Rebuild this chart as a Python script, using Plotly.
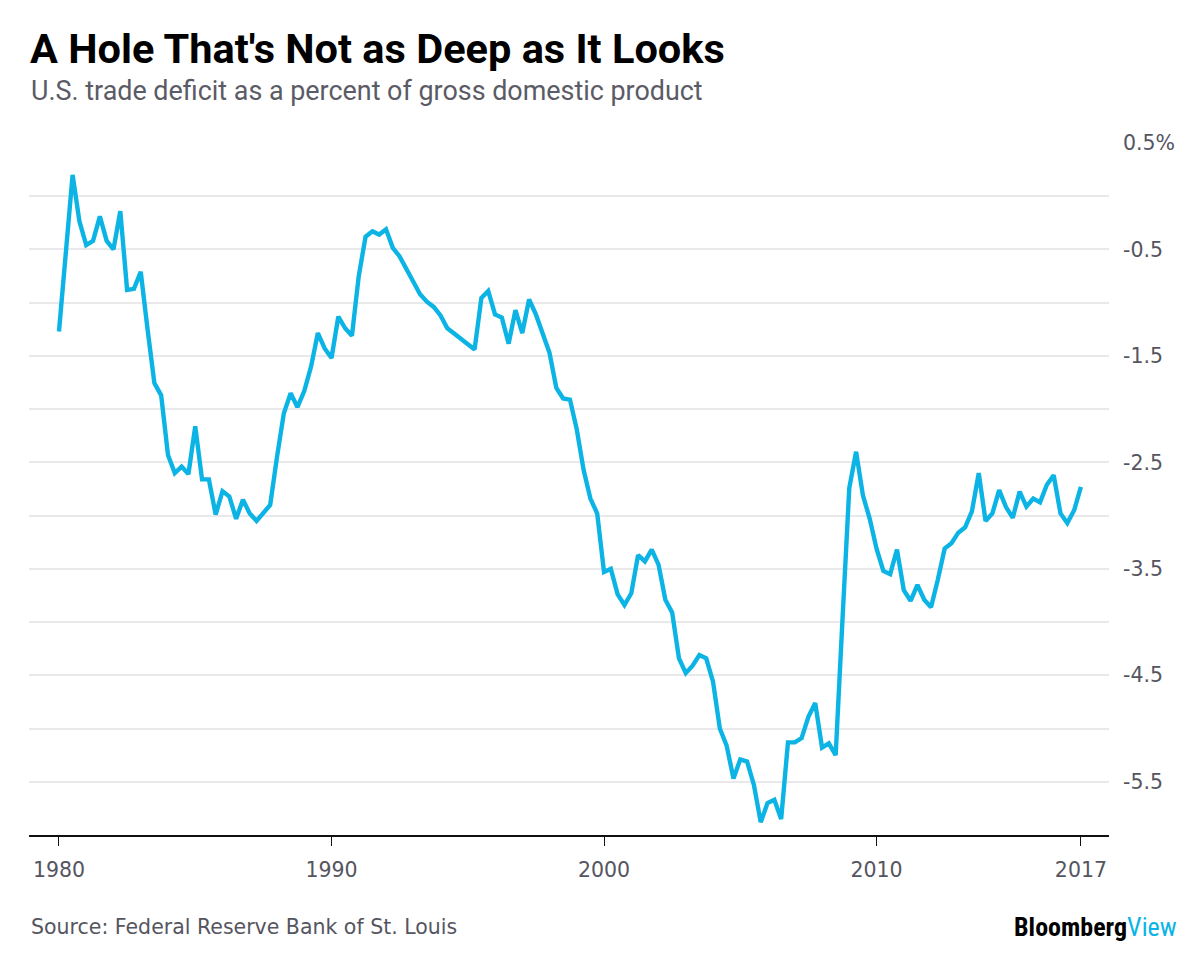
import plotly.graph_objects as go

# U.S. net exports (trade balance) as % of GDP, quarterly, 1980 Q1 – 2017 Q3
start_year = 1980
values = [
    -1.27, -0.53, 0.20, -0.235, -0.46, -0.42, -0.19, -0.42, -0.50, -0.14,
    -0.88, -0.87, -0.71, -1.25, -1.755, -1.87, -2.43, -2.60, -2.54, -2.61,
    -2.16, -2.66, -2.66, -2.99, -2.77, -2.82, -3.03, -2.85, -2.98, -3.05,
    -2.98, -2.90, -2.45, -2.04, -1.85, -1.98, -1.83, -1.60, -1.285, -1.43,
    -1.52, -1.13, -1.24, -1.31, -0.75, -0.38, -0.33, -0.36, -0.31, -0.485,
    -0.565, -0.69, -0.815, -0.92, -0.99, -1.04, -1.12, -1.24, -1.29, -1.34,
    -1.385, -1.44, -0.955, -0.89, -1.11, -1.14, -1.385, -1.07, -1.285, -0.97,
    -1.11, -1.30, -1.47, -1.80, -1.90, -1.91, -2.19, -2.57, -2.84, -2.98,
    -3.53, -3.50, -3.74, -3.84, -3.73, -3.37, -3.43, -3.32, -3.46, -3.79,
    -3.91, -4.34, -4.48, -4.41, -4.31, -4.34, -4.56, -5.00, -5.16, -5.47,
    -5.29, -5.31, -5.53, -5.88, -5.70, -5.67, -5.85, -5.13, -5.13, -5.09,
    -4.89, -4.76, -5.18, -5.14, -5.25, -3.98, -2.74, -2.40, -2.81, -3.03,
    -3.31, -3.52, -3.55, -3.32, -3.70, -3.80, -3.65, -3.79, -3.86, -3.60,
    -3.31, -3.26, -3.16, -3.11, -2.96, -2.60, -3.05, -2.98, -2.76, -2.92,
    -3.02, -2.775, -2.915, -2.84, -2.875, -2.71, -2.62, -2.98, -3.07, -2.95,
    -2.73,
]
# quarter positions in decimal years
x_years = [start_year + i / 4 for i in range(len(values))]

x_tick_vals = [1980, 1990, 2000, 2010, 2017.5]
x_tick_text = ["1980", "1990", "2000", "2010", "2017"]

y_grid_vals = [0.5, 0.0, -0.5, -1.0, -1.5, -2.0, -2.5, -3.0, -3.5, -4.0, -4.5, -5.0, -5.5]
y_tick_text = ["0.5%", "", "-0.5", "", "-1.5", "", "-2.5", "", "-3.5", "", "-4.5", "", "-5.5"]

LINE = "#0bb4e4"
GRAY = "#55555f"
FONT = "Roboto"
TICKFONT = "DejaVu Sans"

fig = go.Figure()
fig.add_trace(go.Scatter(
    x=x_years, y=values, mode="lines",
    line=dict(color=LINE, width=4.4),
    hoverinfo="skip",
))

L, R, T, B = 29, 91, 143, 118
W, H = 1200, 953
pw, ph = W - L - R, H - T - B

def px(xp):
    return (xp - L) / pw

def py(yp):
    return (H - B - yp) / ph

fig.update_layout(
    width=W, height=H,
    margin=dict(l=L, r=R, t=T, b=B, pad=0),
    paper_bgcolor="white", plot_bgcolor="white",
    showlegend=False,
    font=dict(family=FONT, color=GRAY),
    xaxis=dict(
        range=[1978.9, 2018.53],
        tickvals=x_tick_vals, ticktext=x_tick_text,
        showgrid=False, zeroline=False,
        showline=True, linecolor="#111111", linewidth=2,
        ticks="outside", ticklen=9, tickwidth=1.3, tickcolor="#111111",
        tickfont=dict(size=20.5, color=GRAY, family=TICKFONT),
        ticklabelstandoff=6,
    ),
    yaxis=dict(
        range=[-6, 0.5], side="right",
        tickvals=y_grid_vals, ticktext=y_tick_text,
        showgrid=True, gridcolor="#e9e9ec", gridwidth=2,
        zeroline=False, showline=False, ticks="",
        tickfont=dict(size=20.5, color=GRAY, family=TICKFONT),
        ticklabelstandoff=13,
    ),
)

annotations = [
    dict(text="<b>A Hole That's Not as Deep as It Looks</b>", x=px(28), y=py(48),
         font=dict(size=41.5, color="#000000", family=FONT, weight=900)),
    dict(text="U.S. trade deficit as a percent of gross domestic product", x=px(29), y=py(91),
         font=dict(size=26.9, color="#5b5b66", family=FONT)),
    dict(text="Source: Federal Reserve Bank of St. Louis", x=px(29), y=py(927),
         font=dict(size=20.5, color=GRAY, family=TICKFONT)),
]
for a in annotations:
    a.update(xref="paper", yref="paper", xanchor="left", yanchor="middle", showarrow=False)
    fig.add_annotation(**a)

fig.add_annotation(
    text="<b>Bloomberg</b><span style='color:%s'>View</span>" % LINE,
    x=px(1179), y=py(927), xref="paper", yref="paper",
    xanchor="right", yanchor="middle", showarrow=False,
    font=dict(size=26, color="#000000", family="Roboto Condensed, " + FONT),
)

fig.write_html("out.html")
